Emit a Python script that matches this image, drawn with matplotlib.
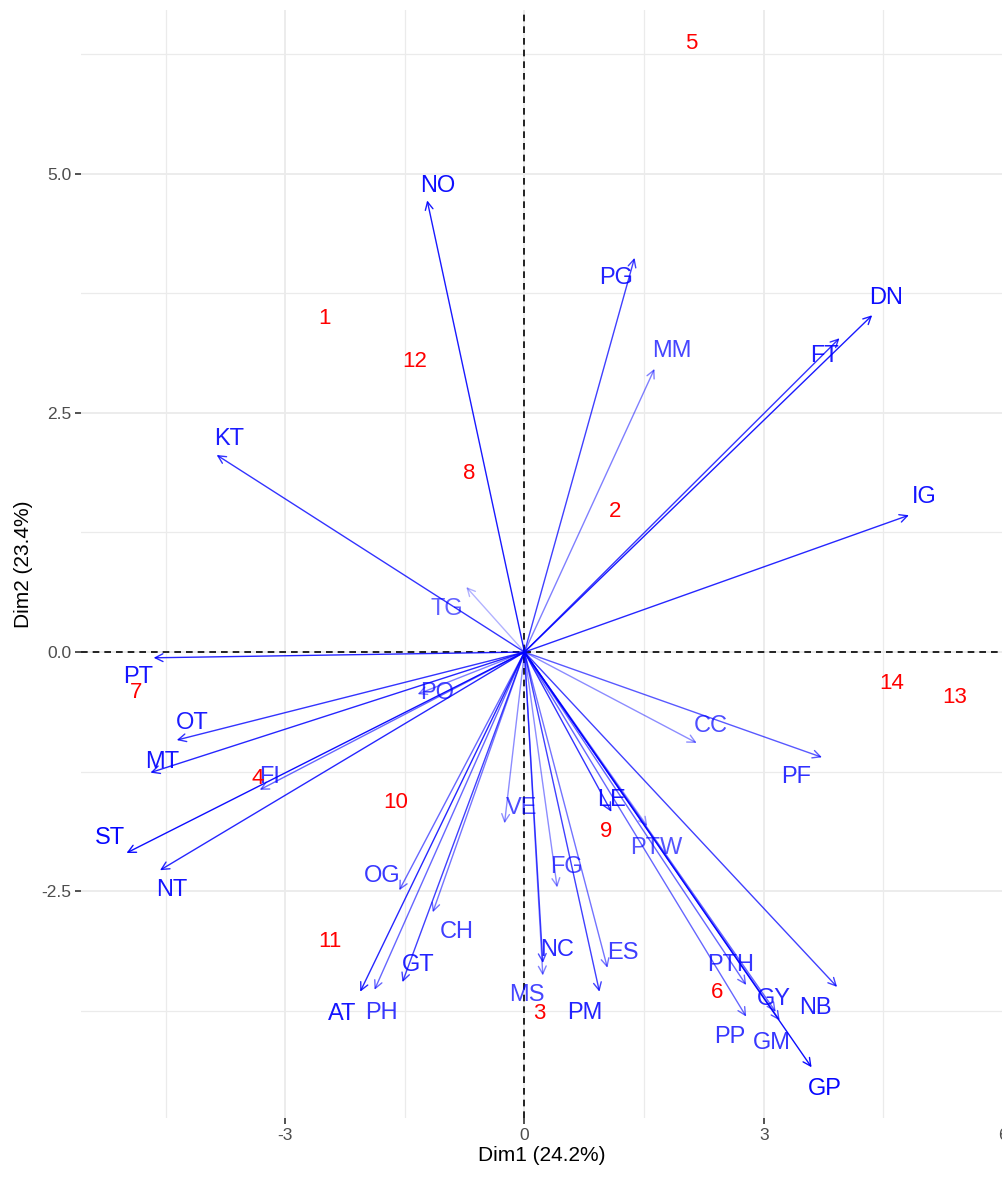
import matplotlib
matplotlib.use("Agg")
import matplotlib.pyplot as plt
import numpy as np

plt.rcParams["font.family"] = ["Liberation Sans", "DejaVu Sans"]
plt.rcParams["axes.unicode_minus"] = False

# individuals (PCA scores)
ind_names = ["1", "2", "3", "4", "5", "6", "7", "8", "9", "10", "11", "12", "13", "14"]
ind_x = [-2.51, 1.14, 0.18, -3.35, 2.09, 2.42, -4.87, -0.69, 1.03, -1.62, -2.44, -1.38, 5.40, 4.60]
ind_y = [3.49, 1.47, -3.78, -1.32, 6.36, -3.56, -0.42, 1.87, -1.88, -1.57, -3.03, 3.04, -0.48, -0.33]

# variables (arrow tips)
var_names = ["NO", "PG", "MM", "FT", "DN", "IG", "CC", "PF", "KT", "TG", "PT", "PO",
             "OT", "MT", "FI", "ST", "NT", "OG", "CH", "GT", "AT", "PH", "VE", "LE",
             "FG", "NC", "MS", "ES", "PM", "PTW", "PTH", "PP", "GY", "GM", "GP", "NB"]
var_x = [-1.22, 1.38, 1.63, 3.95, 4.36, 4.82, 2.16, 3.73, -3.86, -0.73, -4.65, -1.34,
         -4.36, -4.69, -3.32, -4.99, -4.57, -1.57, -1.15, -1.53, -2.06, -1.88, -0.25, 1.09,
         0.41, 0.23, 0.23, 1.04, 0.94, 1.54, 2.78, 2.78, 3.20, 3.15, 3.60, 3.92]
var_y = [4.72, 4.12, 2.96, 3.28, 3.52, 1.43, -0.95, -1.10, 2.06, 0.68, -0.06, -0.44,
         -0.92, -1.26, -1.44, -2.10, -2.28, -2.49, -2.72, -3.45, -3.55, -3.53, -1.79, -1.67,
         -2.46, -3.25, -3.38, -3.30, -3.55, -1.82, -3.48, -3.81, -3.85, -3.76, -4.34, -3.50]
# quality of representation -> transparency
var_cos2 = [0.9, 0.75, 0.5, 0.8, 0.9, 0.85, 0.45, 0.65, 0.8, 0.3, 0.85, 0.5,
            0.8, 0.85, 0.6, 0.95, 0.85, 0.6, 0.55, 0.75, 0.85, 0.6, 0.45, 0.8,
            0.45, 0.7, 0.5, 0.55, 0.75, 0.4, 0.6, 0.6, 0.7, 0.6, 0.95, 0.75]
# label positions of the variables
lab_x = [-1.09, 1.15, 1.85, 3.76, 4.54, 5.01, 2.33, 3.41, -3.70, -0.98, -4.85, -1.10,
         -4.16, -4.54, -3.20, -5.20, -4.42, -1.78, -0.85, -1.33, -2.28, -1.79, -0.04, 1.09,
         0.53, 0.41, 0.03, 1.23, 0.76, 1.65, 2.59, 2.57, 3.13, 3.10, 3.76, 3.65]
lab_y = [4.87, 3.91, 3.15, 3.09, 3.70, 1.62, -0.77, -1.31, 2.23, 0.45, -0.26, -0.43,
         -0.74, -1.15, -1.31, -1.94, -2.49, -2.34, -2.93, -3.27, -3.78, -3.77, -1.63, -1.55,
         -2.25, -3.11, -3.58, -3.15, -3.77, -2.05, -3.27, -4.02, -3.63, -4.09, -4.57, -3.72]

fig = plt.figure(figsize=(10.03, 11.78), dpi=100)
ax = fig.add_axes([0.0808, 0.0509, 0.9192, 0.9406])

ax.set_xlim(-5.56, 6.0)
ax.set_ylim(-4.87, 6.71)
ax.set_xticks([-3, 0, 3, 6])
ax.set_yticks([-2.5, 0.0, 2.5, 5.0])
ax.set_yticklabels(["-2.5", "0.0", "2.5", "5.0"])
ax.set_xticks([-4.5, -1.5, 1.5, 4.5], minor=True)
ax.set_yticks([-3.75, -1.25, 1.25, 3.75, 6.25], minor=True)
ax.grid(True, which="major", color="#EBEBEB", lw=1.3)
ax.grid(True, which="minor", color="#EBEBEB", lw=0.9)
ax.set_axisbelow(True)
for s in ax.spines.values():
    s.set_visible(False)
ax.tick_params(which="major", length=4, width=1.2, color="#333333",
               labelcolor="#4D4D4D", labelsize=12.5, pad=3)
ax.tick_params(which="minor", length=0)

ax.axhline(0, color="black", ls=(0, (4, 3)), lw=1.2)
ax.axvline(0, color="black", ls=(0, (4, 3)), lw=1.2)

for i in range(len(var_names)):
    a = var_cos2[i]
    ax.annotate("", xy=(var_x[i], var_y[i]), xytext=(0, 0),
                arrowprops=dict(arrowstyle="->", color="blue", alpha=a, lw=1.0,
                                shrinkA=0, shrinkB=0, mutation_scale=14))
    ax.text(lab_x[i], lab_y[i], var_names[i], color="blue", alpha=0.45 + 0.55 * a,
            fontsize=17, ha="center", va="center")

for i in range(len(ind_names)):
    ax.text(ind_x[i], ind_y[i], ind_names[i], color="red",
            fontsize=16, ha="center", va="center")

ax.set_xlabel("Dim1 (24.2%)", fontsize=15, labelpad=2)
ax.set_ylabel("Dim2 (23.4%)", fontsize=15, labelpad=6)

fig.savefig("out.png", dpi=100)
